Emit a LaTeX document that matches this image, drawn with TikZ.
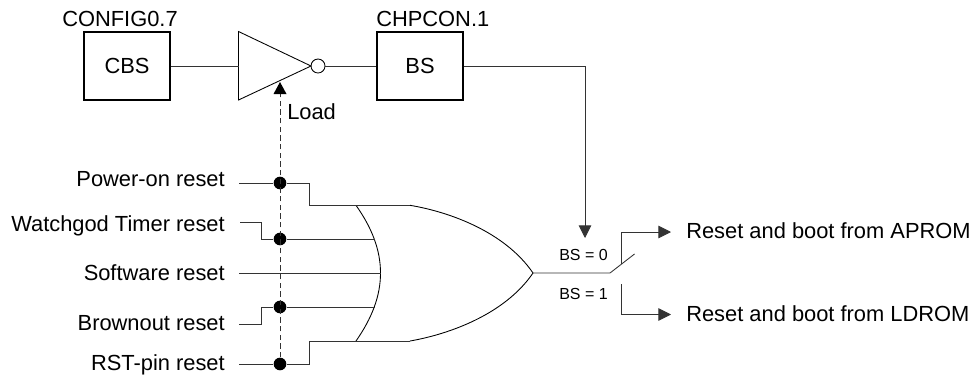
\documentclass[tikz,border=0pt]{standalone}
\usepackage{fontspec}
\setmainfont{Liberation Sans}
\usetikzlibrary{arrows.meta}
\tikzset{
  wire/.style={draw=black!80,line width=0.65pt},
  flow/.style={wire,-{Triangle[length=9.5pt,width=9.5pt]}},
  regbox/.style={draw=black,line width=0.9pt,minimum width=64.5pt,minimum height=51pt,inner sep=0pt,font=\fontsize{16.4}{18}\selectfont},
  lab/.style={inner sep=0pt,font=\fontsize{16.4}{18}\selectfont},
  smalllab/.style={inner sep=0pt,font=\fontsize{12}{14}\selectfont},
  junction/.style={circle,fill=black,inner sep=0pt,minimum size=9.5pt}
}
\begin{document}
\begin{tikzpicture}[x=0.75pt,y=-0.75pt]
\useasboundingbox (0,0) rectangle (973,376);
% boxes
\node[regbox] (cbs) at (127,66) {CBS};
\node[regbox] (bs) at (420,66) {BS};
\node[lab,anchor=base west] (cfg) at (62,26.5) {CONFIG0.7};
\node[lab,anchor=base west] (chp) at (376,26.5) {CHPCON.1};
% inverter
\coordinate (it) at (238.5,31.5);
\coordinate (ib) at (238.5,100);
\coordinate (itip) at (311,66);
\draw[black,line width=0.65pt,line join=miter] (it) -- (itip) -- (ib) -- cycle;
\node[circle,draw=black,line width=0.65pt,inner sep=0pt,minimum size=10.5pt] (bub) at (318,66) {};
\draw[wire] (cbs.east) -- (238.5,66);
\draw[wire] (bub.east) -- (bs.west);
\node[lab,anchor=base west] (load) at (287,119) {Load};
% input labels
\node[lab,anchor=base east] (l1) at (225,186) {Power-on reset};
\node[lab,anchor=base east] (l2) at (225,231) {Watchgod Timer reset};
\node[lab,anchor=base east] (l3) at (225,280) {Software reset};
\node[lab,anchor=base east] (l4) at (225,330) {Brownout reset};
\node[lab,anchor=base east] (l5) at (225,370) {RST-pin reset};
% gate
\coordinate (gt) at (356,205.3);
\coordinate (gb) at (356,341);
\coordinate (gtt) at (410,205.3);
\coordinate (gbb) at (410,341);
\coordinate (gtip) at (533,273);
\draw[black,line width=0.65pt] (gt) .. controls (372,228) and (380.5,250) .. (380.5,273) .. controls (380.5,296) and (372,318) .. (gb);
\draw[black,line width=0.65pt] (gtt) .. controls (450,212) and (505,232) .. (gtip) .. controls (505,314) and (450,334) .. (gbb);
% junctions
\node[junction] (j1) at (280,183) {};
\node[junction] (j2) at (280,239) {};
\node[junction] (j4) at (280,307) {};
\node[junction] (j5) at (280,364) {};
% inputs
\coordinate (s1) at (239,183);
\coordinate (s2) at (240,222);
\coordinate (s3) at (239,273);
\coordinate (s4) at (239,324);
\coordinate (s5) at (239,364);
\draw[wire] (s1) -- (j1) -- (309,183) -- (309,205.3) -- (gtt);
\draw[wire] (s2) -- (261,222) -- (261,239) -- (j2) -- (375,239);
\draw[wire] (s3) -- (380.5,273);
\draw[wire] (s4) -- (261,324) -- (261,307) -- (j4) -- (375,307);
\draw[wire] (s5) -- (j5) -- (309,364) -- (309,341) -- (gbb);
% load
\coordinate (lend) at (280,82);
\coordinate (lbase) at (280,93);
\draw[wire,dashed,dash pattern=on 4pt off 2.5pt] (j5) -- (lbase);
\fill[black] (lend) -- (273.5,94) -- (286.5,94) -- cycle;
% output
\coordinate (sw) at (610,273);
\coordinate (swe) at (634.5,254);
\coordinate (swm) at (621.7,264);
\coordinate (swl) at (621.7,284);
\node[lab,anchor=base west] (o1) at (686,238) {Reset and boot from APROM};
\node[lab,anchor=base west] (o2) at (686,321) {Reset and boot from LDROM};
\coordinate (a1) at (671,232);
\coordinate (a2) at (671,314.5);
\coordinate (bdn) at (585,238);
\draw[wire] (gtip) -- (sw) -- (swe);
\draw[flow] (swm) -- (621.7,232) -- (a1);
\draw[flow] (swl) -- (621.7,314.5) -- (a2);
\draw[flow] (bs.east) -- (585,66) -- (bdn);
\node[smalllab,anchor=base west] (b0) at (559,260) {BS = 0};
\node[smalllab,anchor=base west] (b1) at (559,299) {BS = 1};
\end{tikzpicture}
\end{document}
